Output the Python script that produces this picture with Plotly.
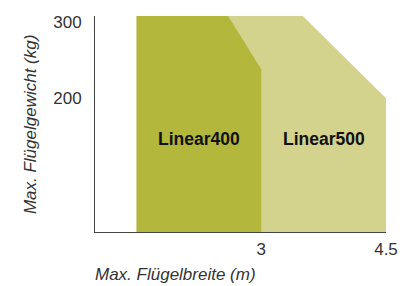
import plotly.graph_objects as go

# Linear500 envelope (width in m, weight in kg)
l500_x = [1.5, 1.5, 3.5, 4.5, 4.5]
l500_y = [24, 308, 308, 200, 24]
# Linear400 envelope
l400_x = [1.5, 1.5, 2.6, 3.0, 3.0]
l400_y = [24, 308, 308, 238, 24]

labels = ["Linear400", "Linear500"]
label_x = [2.25, 3.75]
label_y = [146, 146]

x_ticks = [3, 4.5]
x_ticktext = ["3", "4.5"]
y_ticks = [200, 300]

font = "Liberation Sans, Arial, sans-serif"

fig = go.Figure()
fig.add_trace(go.Scatter(x=l500_x, y=l500_y, fill="toself", mode="lines",
                         line=dict(width=0), fillcolor="rgb(211,211,142)",
                         hoverinfo="skip", showlegend=False))
fig.add_trace(go.Scatter(x=l400_x, y=l400_y, fill="toself", mode="lines",
                         line=dict(width=0), fillcolor="rgb(179,184,61)",
                         hoverinfo="skip", showlegend=False))

for t, x, y in zip(labels, label_x, label_y):
    fig.add_annotation(x=x, y=y, text="<b>%s</b>" % t, showarrow=False,
                       font=dict(family=font, size=17.5, color="#111"))

fig.add_annotation(xref="paper", yref="paper", x=-0.223, y=0.5,
                   text="<i>Max. Flügelgewicht (kg)</i>", textangle=-90,
                   showarrow=False, xanchor="center", yanchor="middle",
                   font=dict(family=font, size=17, color="#333"))
fig.add_annotation(xref="paper", yref="paper", x=-0.007, y=-0.196,
                   text="<i>Max. Flügelbreite (m)</i>",
                   showarrow=False, xanchor="left", yanchor="middle",
                   font=dict(family=font, size=17, color="#333"))

fig.update_layout(
    width=403, height=278,
    margin=dict(l=87, r=25, t=5, b=54),
    paper_bgcolor="white", plot_bgcolor="white",
    font=dict(family=font, size=17, color="#333"),
    xaxis=dict(range=[1, 4.5], tickvals=x_ticks, ticktext=x_ticktext,
               showgrid=False, zeroline=False, showline=True,
               linecolor="#444", linewidth=1, ticks="", ticklabelstandoff=2),
    yaxis=dict(range=[24, 308], tickvals=y_ticks,
               showgrid=False, zeroline=False, showline=True,
               linecolor="#444", linewidth=1, ticks="", ticklabelstandoff=9),
)

fig.write_html("out.html")
